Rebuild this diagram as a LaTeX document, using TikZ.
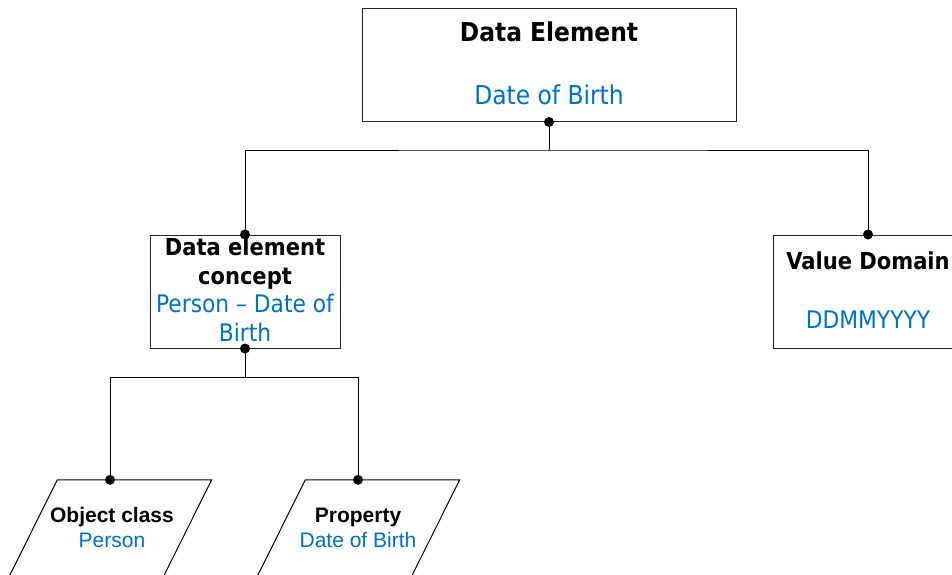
\documentclass[tikz,border=0pt]{standalone}
\usepackage{fontspec}
\setmainfont{Liberation Sans}
\newfontfamily\boxfont{DejaVu Sans Condensed}
\usetikzlibrary{calc}
\definecolor{valblue}{RGB}{0,112,192}
\tikzset{
  box/.style={draw=black!85, line width=1pt, minimum width=#1, inner sep=0pt},
  link/.style={draw=black, line width=1pt},
  hd/.style={anchor=base, inner sep=0pt, font=\boxfont\bfseries\fontsize{26}{30}\selectfont},
  val/.style={anchor=base, inner sep=0pt, text=valblue, font=\boxfont\fontsize{26}{30}\selectfont},
  hdsmall/.style={anchor=base, inner sep=0pt, font=\boxfont\bfseries\fontsize{23.4}{27}\selectfont},
  valsmall/.style={anchor=base, inner sep=0pt, text=valblue, font=\boxfont\fontsize{24.2}{28}\selectfont},
  lhd/.style={anchor=base, inner sep=0pt, font=\bfseries\fontsize{21}{25}\selectfont},
  lval/.style={anchor=base, inner sep=0pt, text=valblue, font=\fontsize{21}{25}\selectfont},
  dot/.style={circle, fill=black, inner sep=0pt, minimum size=10pt},
}
\begin{document}
\begin{tikzpicture}[x=1pt, y=-1pt]
\clip (0,0) rectangle (952,574);
\fill[white] (0,0) rectangle (952,574);

% boxes
\node[box=374pt, minimum height=113pt] (de) at (549,65) {};
\node[box=190pt, minimum height=113pt] (dec) at (245,291.5) {};
\node[box=190pt, minimum height=113pt] (vd) at (868,291.5) {};
% parallelogram frames (outline drawn below)
\node[minimum width=203pt, minimum height=98pt, inner sep=0pt] (oc) at (110,529) {};
\node[minimum width=203pt, minimum height=98pt, inner sep=0pt] (pr) at (358,529) {};
\foreach \p in {oc,pr}
  \draw[link] ([xshift=49pt]\p.north west) -- (\p.north east)
     -- ([xshift=-49pt]\p.south east) -- (\p.south west) -- cycle;

% texts
\node[hd] (deT) at (549,41) {Data Element};
\node[val] (deV) at (549,104) {Date of Birth};
\node[hdsmall] (decT1) at (245,255) {Data element};
\node[hdsmall] (decT2) at (245,284) {concept};
\node[valsmall] (decV1) at (245,312.5) {Person – Date of};
\node[valsmall] (decV2) at (245,341) {Birth};
\node[hdsmall] (vdT) at (868,269) {Value Domain};
\node[valsmall] (vdV) at (868,328) {DDMMYYYY};
\node[lhd] (ocT) at (112,522) {Object class};
\node[lval] (ocV) at (112,547) {Person};
\node[lhd] (prT) at (358,522) {Property};
\node[lval] (prV) at (358,547) {Date of Birth};

% connectors
\coordinate (j1) at (549,150);
\coordinate (j2) at (245,377);
\draw[link] (de.south) -- (j1);
\draw[link] (dec.north) |- (j1) -| (vd.north);
\draw[link] (dec.south) -- (j2);
\draw[link] (oc.north) |- (j2) -| (pr.north);

% junction dots
\foreach \a in {de.south, dec.north, dec.south, vd.north, oc.north, pr.north}
  \node[dot] at (\a) {};
\end{tikzpicture}
\end{document}
